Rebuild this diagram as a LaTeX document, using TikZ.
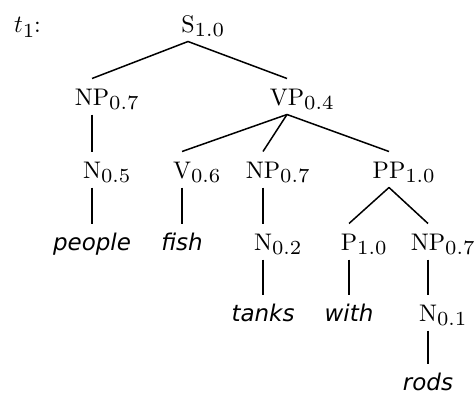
\documentclass[tikz,border=0pt]{standalone}
\usepackage{fontspec}
\newfontfamily\leaffont{DejaVu Sans}
\newfontfamily\labfont{lmroman10-regular}[Extension=.otf]
\newfontfamily\subfont{lmroman7-regular}[Extension=.otf]
\newcommand\subsc[1]{\rlap{\raisebox{-4pt}{\subfont\fontsize{20}{20}\selectfont #1}}}
\tikzset{
  tn/.style={inner sep=0pt, outer xsep=0pt, outer ysep=9.5pt, text height=17pt, text depth=0pt, anchor=base, font=\labfont\fontsize{24}{30}\selectfont},
  leaf/.style={tn, font=\leaffont\itshape\fontsize{23}{28}\selectfont},
  br/.style={line width=1.5pt}
}
\begin{document}
\begin{tikzpicture}[x=1pt,y=-1pt]
\useasboundingbox (0,0) rectangle (476,394);
\node[tn, anchor=base west] (t1) at (14,32) {$t$\raisebox{-5pt}{\subfont\fontsize{20}{20}\selectfont 1}:};
\node[tn] (S) at (188,32) {S\subsc{1.0}};
\node[tn] (NPa) at (92,105) {NP\subsc{0.7}};
\node[tn] (VP) at (287,105) {VP\subsc{0.4}};
\node[tn] (Na) at (92,178) {N\subsc{0.5}};
\node[tn] (V) at (182,178) {V\subsc{0.6}};
\node[tn] (NPb) at (263,178) {NP\subsc{0.7}};
\node[tn] (PP) at (389,178) {PP\subsc{1.0}};
\node[leaf] (people) at (92,250) {people};
\node[leaf] (fish) at (182,250) {fish};
\node[tn] (Nb) at (263,250) {N\subsc{0.2}};
\node[tn] (P) at (349,250) {P\subsc{1.0}};
\node[tn] (NPc) at (428,250) {NP\subsc{0.7}};
\node[leaf] (tanks) at (263,321) {tanks};
\node[leaf] (with) at (349,321) {with};
\node[tn] (Nc) at (428,321) {N\subsc{0.1}};
\node[leaf] (rods) at (428,390) {rods};
\draw[br] (S.south) -- (NPa.north);
\draw[br] (S.south) -- (VP.north);
\draw[br] (NPa.south) -- (Na.north);
\draw[br] (VP.south) -- (V.north);
\draw[br] (VP.south) -- (NPb.north);
\draw[br] (VP.south) -- (PP.north);
\draw[br] (Na.south) -- (people.north);
\draw[br] (V.south) -- (fish.north);
\draw[br] (NPb.south) -- (Nb.north);
\draw[br] (PP.south) -- (P.north);
\draw[br] (PP.south) -- (NPc.north);
\draw[br] (Nb.south) -- (tanks.north);
\draw[br] (P.south) -- (with.north);
\draw[br] (NPc.south) -- (Nc.north);
\draw[br] (Nc.south) -- (rods.north);
\end{tikzpicture}
\end{document}
